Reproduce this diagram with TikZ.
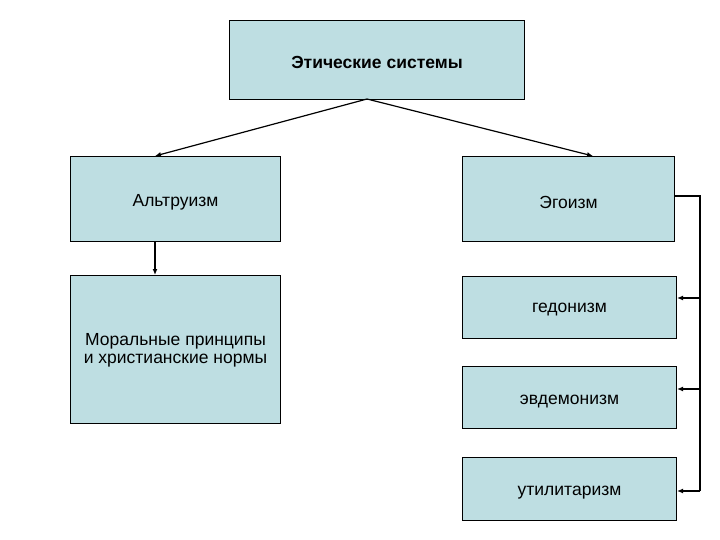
\documentclass[tikz,border=0pt]{standalone}
\usepackage{fontspec}
\setmainfont{Liberation Sans}
\usetikzlibrary{arrows.meta}
\definecolor{boxfill}{RGB}{190,222,226}
\begin{document}
\begin{tikzpicture}[x=1pt,y=-1pt,
  box/.style={draw=black,fill=boxfill,line width=1pt,inner sep=0pt,anchor=north west},
  conn/.style={line width=1.2pt,-{Latex[length=6pt,width=5pt]}},
  font=\fontsize{17.5}{20}\selectfont]
\useasboundingbox (0,0) rectangle (720,540);
\node[box,minimum width=295,minimum height=79] (top) at (229,20) {};
\node[font=\fontsize{17.5}{20}\selectfont\bfseries] at ([yshift=-2]top.center) {Этические системы};
\node[box,minimum width=210,minimum height=85] (alt) at (70,156) {};
\node at ([yshift=-3]alt.center) {Альтруизм};
\node[box,minimum width=212,minimum height=85] (ego) at (462,156) {};
\node at ([yshift=-3]ego.center) {Эгоизм};
\node[box,minimum width=210,minimum height=148] (mor) at (70,275) {};
\node[align=center,font=\fontsize{17.5}{18.5}\selectfont] at ([yshift=-1]mor.center) {Моральные принципы\\и христианские нормы};
\node[box,minimum width=214,minimum height=62] (hed) at (462,276) {};
\node at ([yshift=-2]hed.center) {гедонизм};
\node[box,minimum width=214,minimum height=62] (evd) at (462,366) {};
\node at ([yshift=-4]evd.center) {эвдемонизм};
\node[box,minimum width=214,minimum height=63] (uti) at (462,457) {};
\node at ([yshift=-4]uti.center) {утилитаризм};
\coordinate (apex) at (367,99);
\coordinate (la) at (155,156);
\coordinate (ra) at (593,156);
\draw[conn] (apex) -- (la);
\draw[conn] (apex) -- (ra);
\draw[conn] (155,241) -- (155,275);
\coordinate (b0) at (700,196);
\coordinate (b3) at (700,491);
\draw[line width=1.2pt] (ego.east |- b0) -- (b0) -- (b3);
\draw[conn] (700,298) -- (hed.east |- 0,298);
\draw[conn] (700,389) -- (evd.east |- 0,389);
\draw[conn] (b3) -- (uti.east |- b3);
\end{tikzpicture}
\end{document}
